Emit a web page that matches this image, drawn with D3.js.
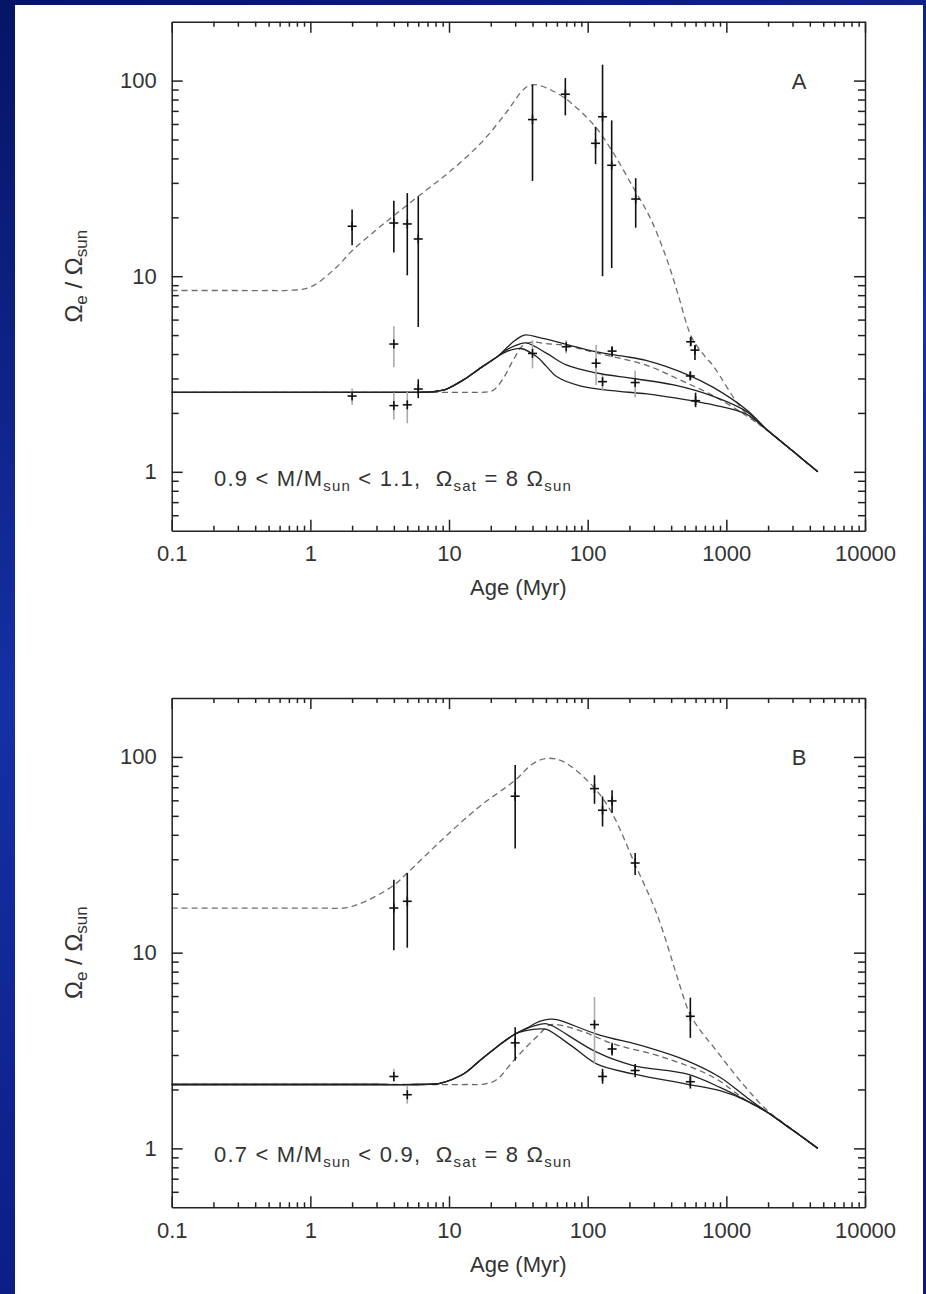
<!DOCTYPE html>
<html><head><meta charset="utf-8">
<script src="https://cdn.jsdelivr.net/npm/d3@7"></script>
<style>html,body{margin:0;padding:0;background:#0b1a85;} svg{display:block}</style>
</head><body><svg id="c" width="926" height="1294"></svg>
<script>
// ---------- tick labels ----------
const xTicks = [0.1, 1, 10, 100, 1000, 10000];
const xTickLabels = ["0.1", "1", "10", "100", "1000", "10000"];
const yTicks = [1, 10, 100];
const yTickLabels = ["1", "10", "100"];
const xMinor = [0.2,0.3,0.4,0.5,0.6,0.7,0.8,0.9,2,3,4,5,6,7,8,9,20,30,40,50,60,70,80,90,200,300,400,500,600,700,800,900,2000,3000,4000,5000,6000,7000,8000,9000];
const yMinor = [0.6,0.7,0.8,0.9,2,3,4,5,6,7,8,9,20,30,40,50,60,70,80,90];

// ---------- Panel A data: [age (Myr), value, low, high] ----------
const ptsA_upper = [[2.0,18.0,14.4,21.9],[4.0,18.7,13.2,24.3],[5.0,18.5,10.1,26.6],[6.0,15.5,5.5,25.6],
  [40,63.2,30.7,95.4],[69,85.2,66.4,103],[114,47.8,37.4,58],[128,65.3,10.0,120.6],[149,36.9,11.0,62.6],
  [222,24.8,17.7,31.7],[553,4.62,4.4,4.9],[594,4.19,3.73,4.45]];
const ptsA_lowerGray = [[2.0,2.44,2.2,2.67],[4.0,4.5,3.42,5.55],[4.0,2.18,1.85,2.54],[5.0,2.2,1.77,2.57],
  [40,4.03,3.38,4.7],[70,4.36,4.03,4.7],[115,3.59,2.78,4.45],[128,2.89,2.6,3.13],[220,2.86,2.4,3.29]];
const ptsA_lowerBlack = [[6.0,2.65,2.38,2.97],[150,4.14,3.87,4.36],[550,3.09,2.97,3.25],[600,2.31,2.14,2.54]];
// model curves A: [age, value]
const curveA_dashHigh = [[0.1,8.45],[0.25,8.45],[0.5,8.45],[0.7,8.47],[1,8.8],[1.5,10.9],[2,13.5],[3,17.3],[4,20.4],[6,25.6],[10,34],
  [17,48],[26,69],[32.5,86],[36.4,93],[41,95.4],[46,94],[51,91.5],[69,81],[110,59.6],[150,43.7],[213,28.4],[281,20],
  [368,12.5],[450,8.0],[517,5.7],[553,5.0],[594,4.55],[700,3.9],[811,3.45],[1317,2.07],[2000,1.62],[3000,1.28],[4570,1.0]];
const curveA_dashLow = [[0.1,2.55],[0.3,2.55],[1,2.55],[3,2.55],[8,2.55],[14,2.55],[19,2.56],[21,2.62],[24.6,3.0],[28.9,3.7],[34.4,4.45],[40,4.6],[50,4.52],
  [70,4.42],[116,4.05],[267,3.5],[463,2.95],[805,2.45],[1403,1.93],[2000,1.62],[3000,1.28],[4570,1.0]];
const curveA_solidTop = [[0.1,2.55],[0.3,2.55],[1,2.55],[3,2.55],[6,2.55],[7.5,2.56],[8.6,2.6],[9.6,2.65],[12.7,2.95],[16.7,3.38],[22,3.85],[26,4.3],
  [30,4.7],[35,5.0],[45,4.85],[69,4.5],[116,4.1],[180,3.9],[267,3.7],[517,3.15],[805,2.7],[1403,2.07],
  [2000,1.62],[3000,1.28],[4570,1.0]];
const curveA_solidMid = [[0.1,2.55],[0.3,2.55],[1,2.55],[3,2.55],[6,2.55],[7.5,2.56],[8.6,2.6],[9.6,2.65],[12.7,2.95],[16.7,3.38],[22,3.85],[26,4.2],
  [30,4.42],[36,4.56],[50.6,4.03],[70,3.52],[116,3.2],[213,3.0],[418,2.78],[805,2.43],[1403,2.03],
  [2000,1.62],[3000,1.28],[4570,1.0]];
const curveA_solidBot = [[0.1,2.55],[0.3,2.55],[1,2.55],[3,2.55],[6,2.55],[7.5,2.56],[8.6,2.6],[9.6,2.65],[12.7,2.95],[16.7,3.38],[22,3.85],[26,4.12],
  [33,4.27],[43,3.87],[50.6,3.45],[60,3.06],[88,2.75],[150,2.6],[267,2.5],[517,2.33],[805,2.2],[1403,1.97],
  [2000,1.62],[3000,1.28],[4570,1.0]];

// ---------- Panel B data ----------
const ptsB_upper = [[4,16.9,10.3,23.6],[5,18.3,10.6,25.5],[30,63,34,90.8],[112,68.9,57.6,80.6],
  [128,53.4,44.1,62.8],[150,59.6,51.9,67.5],[220,28.7,24.9,32.3],[550,4.73,3.67,5.89]];
const ptsB_lowerGray = [[4,2.33,2.18,2.55],[5,1.88,1.69,2.09],[112,4.29,2.70,5.93]];
const ptsB_lowerBlack = [[30,3.46,2.81,4.16],[128,2.33,2.14,2.55],[150,3.22,2.98,3.46],[220,2.50,2.31,2.70],[550,2.19,2.02,2.35]];
const curveB_dashHigh = [[0.1,16.9],[0.25,16.9],[0.6,16.9],[1.2,16.9],[1.8,16.95],[2.5,18.3],[4,22.1],[5,25.5],[9,38],[16.7,56],[29.8,75.7],
  [40,92],[50.6,98.3],[66.7,94.6],[110,70.3],[150,51.5],[216,29],[315,15.8],[445,7.4],[500,5.7],[546,4.85],[650,4.0],[810,3.29],
  [1317,2.13],[2000,1.55],[3000,1.25],[4570,1.0]];
const curveB_dashLow = [[0.1,2.12],[0.3,2.12],[1,2.12],[3,2.12],[8,2.12],[14,2.12],[18,2.13],[22,2.24],[28.5,2.75],[36,3.29],[45,3.84],[52,4.24],[58,4.3],
  [88,4.0],[153,3.42],[351,2.92],[805,2.31],[1403,1.75],[2000,1.52],[3000,1.24],[4570,1.0]];
const curveB_solidTop = [[0.1,2.12],[0.3,2.12],[1,2.12],[3,2.12],[6,2.12],[7.5,2.13],[8.6,2.15],[12.7,2.4],[16.7,2.81],[22,3.29],[30,3.84],[36,4.1],
  [45,4.45],[53.5,4.57],[60,4.55],[116,3.84],[267,3.29],[517,2.81],[900,2.31],[1403,1.82],[2000,1.52],
  [3000,1.24],[4570,1.0]];
const curveB_solidMid = [[0.1,2.12],[0.3,2.12],[1,2.12],[3,2.12],[6,2.12],[7.5,2.13],[8.6,2.15],[12.7,2.4],[16.7,2.81],[22,3.29],[30,3.84],[36,4.08],
  [45,4.3],[50.6,4.33],[56,4.22],[116,3.1],[213,2.65],[517,2.4],[900,2.05],[1403,1.75],[2000,1.52],
  [3000,1.24],[4570,1.0]];
const curveB_solidBot = [[0.1,2.12],[0.3,2.12],[1,2.12],[3,2.12],[6,2.12],[7.5,2.13],[8.6,2.15],[12.7,2.4],[16.7,2.81],[22,3.29],[30,3.84],[36,4.0],
  [45,4.08],[50.6,4.05],[78.7,3.29],[116,2.7],[213,2.4],[517,2.13],[900,1.97],[1403,1.75],[2000,1.52],
  [3000,1.24],[4570,1.0]];

const svg = d3.select("#c");
const defs = svg.append("defs");
const grad = defs.append("linearGradient").attr("id","bg").attr("x1","0").attr("y1","0").attr("x2","0.3").attr("y2","1");
grad.append("stop").attr("offset","0").attr("stop-color","#061466");
grad.append("stop").attr("offset","0.5").attr("stop-color","#1530a5");
grad.append("stop").attr("offset","1").attr("stop-color","#0a1a80");
svg.append("rect").attr("width",926).attr("height",1294).attr("fill","url(#bg)");
svg.append("rect").attr("x",15).attr("y",5).attr("width",908).attr("height",1289).attr("fill","#fff");

const FONT = "'Liberation Sans', Arial, Helvetica, sans-serif";
const TXT = "#333";

function drawPanel(top, bottom, curves, ptsUpper, ptsGray, ptsBlack, panelLabel, annot) {
  const left = 171.7, right = 865;
  const x = d3.scaleLog().domain([0.1, 10000]).range([left, right]);
  const y = d3.scaleLog().domain([0.5, 200]).range([bottom, top]);
  const g = svg.append("g");

  // curves
  const line = d3.line().x(d => x(d[0])).y(d => y(d[1])).curve(d3.curveCatmullRom.alpha(0.5));
  g.append("path").datum(curves.dashHigh).attr("d", line).attr("fill","none")
    .attr("stroke","#6f6f6f").attr("stroke-width",1.3).attr("stroke-dasharray","6,4");
  g.append("path").datum(curves.dashLow).attr("d", line).attr("fill","none")
    .attr("stroke","#666").attr("stroke-width",1.3).attr("stroke-dasharray","6,4");
  [curves.top, curves.mid, curves.bot].forEach(c => {
    g.append("path").datum(c).attr("d", line).attr("fill","none")
      .attr("stroke","#222").attr("stroke-width",1.3);
  });

  // points
  function drawPts(data, barColor) {
    const pg = g.append("g");
    pg.selectAll("line.bar").data(data).join("line").attr("class","bar")
      .attr("x1", d => x(d[0])).attr("x2", d => x(d[0]))
      .attr("y1", d => y(d[2])).attr("y2", d => y(d[3]))
      .attr("stroke", barColor).attr("stroke-width", 1.6);
    pg.selectAll("line.v").data(data).join("line").attr("class","v")
      .attr("x1", d => x(d[0])).attr("x2", d => x(d[0]))
      .attr("y1", d => y(d[1]) - 4.5).attr("y2", d => y(d[1]) + 4.5)
      .attr("stroke", "#111").attr("stroke-width", 1.6);
    pg.selectAll("line.h").data(data).join("line").attr("class","h")
      .attr("x1", d => x(d[0]) - 4.5).attr("x2", d => x(d[0]) + 4.5)
      .attr("y1", d => y(d[1])).attr("y2", d => y(d[1]))
      .attr("stroke", "#111").attr("stroke-width", 1.6);
  }
  drawPts(ptsGray, "#aaa");
  drawPts(ptsBlack, "#111");
  drawPts(ptsUpper, "#111");

  // axes
  function style(sel) {
    sel.selectAll("path,line").attr("stroke","#222").attr("stroke-width",1.5);
    sel.attr("font-family", FONT).attr("font-size", 22);
    sel.selectAll("text").attr("fill", TXT);
  }
  const ax = [];
  ax.push(g.append("g").attr("transform",`translate(0,${bottom})`)
    .call(d3.axisBottom(x).tickValues(xTicks).tickFormat((d,i)=>xTickLabels[i]).tickSizeInner(-11).tickSizeOuter(0).tickPadding(14.7)));
  ax.push(g.append("g").attr("transform",`translate(0,${bottom})`)
    .call(d3.axisBottom(x).tickValues(xMinor).tickFormat("").tickSizeInner(-5).tickSizeOuter(0)));
  ax.push(g.append("g").attr("transform",`translate(0,${top})`)
    .call(d3.axisTop(x).tickValues(xTicks).tickFormat("").tickSizeInner(-11).tickSizeOuter(0)));
  ax.push(g.append("g").attr("transform",`translate(0,${top})`)
    .call(d3.axisTop(x).tickValues(xMinor).tickFormat("").tickSizeInner(-5).tickSizeOuter(0)));
  ax.push(g.append("g").attr("transform",`translate(${left},0)`)
    .call(d3.axisLeft(y).tickValues(yTicks).tickFormat((d,i)=>yTickLabels[i]).tickSizeInner(-11).tickSizeOuter(0).tickPadding(15)));
  ax.push(g.append("g").attr("transform",`translate(${left},0)`)
    .call(d3.axisLeft(y).tickValues(yMinor).tickFormat("").tickSizeInner(-7).tickSizeOuter(0)));
  ax.push(g.append("g").attr("transform",`translate(${right},0)`)
    .call(d3.axisRight(y).tickValues(yTicks).tickFormat("").tickSizeInner(-11).tickSizeOuter(0)));
  ax.push(g.append("g").attr("transform",`translate(${right},0)`)
    .call(d3.axisRight(y).tickValues(yMinor).tickFormat("").tickSizeInner(-7).tickSizeOuter(0)));
  ax.forEach(style);
  [1,3,5,7].forEach(i => ax[i].select(".domain").remove());

  // x label
  g.append("text").attr("x", (left+right)/2).attr("y", bottom + 64.5)
    .attr("text-anchor","middle").attr("font-family",FONT).attr("font-size",22).attr("fill",TXT)
    .text("Age (Myr)");
  // y label
  const yl = g.append("text").attr("transform", `translate(82,${(top+bottom)/2}) rotate(-90)`)
    .attr("text-anchor","middle").attr("font-family",FONT).attr("font-size",24).attr("fill",TXT);
  yl.append("tspan").text("Ω");
  yl.append("tspan").attr("dy",5).attr("font-size",17).text("e");
  yl.append("tspan").attr("dy",-5).text(" / Ω");
  yl.append("tspan").attr("dy",5).attr("font-size",17).text("sun");
  // panel label
  g.append("text").attr("x", 799).attr("y", top + 67).attr("text-anchor","middle")
    .attr("font-family",FONT).attr("font-size",22).attr("fill",TXT).text(panelLabel);
  // annotation
  const an = g.append("text").attr("x", 214).attr("y", bottom - 45)
    .attr("font-family",FONT).attr("font-size",22).attr("fill",TXT).attr("letter-spacing",1.2)
    .attr("xml:space","preserve");
  an.append("tspan").text(annot[0] + " < M/M");
  an.append("tspan").attr("dy",5).attr("font-size",15).text("sun");
  an.append("tspan").attr("dy",-5).text(" < " + annot[1] + ",  Ω");
  an.append("tspan").attr("dy",5).attr("font-size",15).text("sat");
  an.append("tspan").attr("dy",-5).text(" = 8 Ω");
  an.append("tspan").attr("dy",5).attr("font-size",15).text("sun");
}

drawPanel(21.7, 530.7,
  {dashHigh: curveA_dashHigh, dashLow: curveA_dashLow, top: curveA_solidTop, mid: curveA_solidMid, bot: curveA_solidBot},
  ptsA_upper, ptsA_lowerGray, ptsA_lowerBlack, "A", ["0.9", "1.1"]);
drawPanel(698, 1207.3,
  {dashHigh: curveB_dashHigh, dashLow: curveB_dashLow, top: curveB_solidTop, mid: curveB_solidMid, bot: curveB_solidBot},
  ptsB_upper, ptsB_lowerGray, ptsB_lowerBlack, "B", ["0.7", "0.9"]);
</script>
</body></html>
